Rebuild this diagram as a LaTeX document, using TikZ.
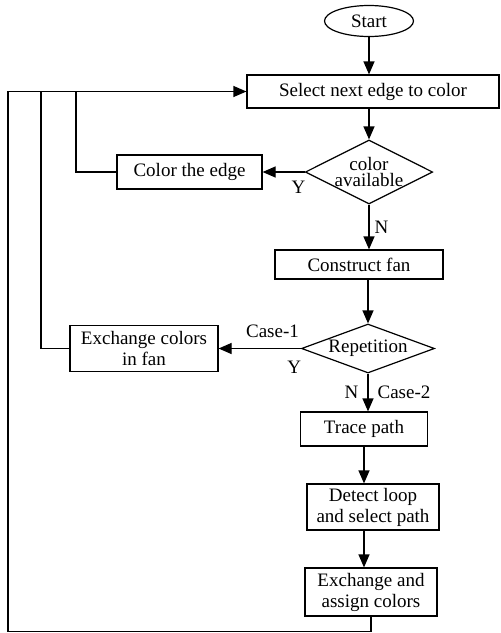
\documentclass[tikz,border=0pt]{standalone}
\usepackage{fontspec}
\setmainfont{Liberation Serif}
\usetikzlibrary{shapes.geometric,arrows.meta}
\tikzstyle{block}=[rectangle,draw,line width=0.6pt,inner sep=0pt,align=center]
\tikzstyle{decision}=[diamond,draw,line width=0.6pt,inner sep=0pt,align=center]
\tikzstyle{arr}=[line width=0.6pt,-{Triangle[length=6.5pt,width=5.5pt]}]
\tikzstyle{lbl}=[inner sep=0pt]

\begin{document}
\begin{tikzpicture}[x=0.5pt,y=-0.5pt,font=\fontsize{9.5}{10.5}\selectfont]
		\useasboundingbox (0,0) rectangle (500,633);
		\node[ellipse,draw,line width=0.6pt,inner sep=0pt,minimum width=44.5pt,minimum height=15.5pt] at (369, 21) (start) {Start};
		\node[block,minimum width=126pt,minimum height=16.5pt] at (373, 91.5) (select) {Select next edge to color};
		\node[decision,aspect=2,minimum width=62.5pt,minimum height=32pt,font=\fontsize{9.5}{8}\selectfont] at (369, 172) (avail) {color\\available};
		\node[block,minimum width=72.5pt,minimum height=17pt] at (189.5, 172) (edge) {Color the edge};
		\node[block,minimum width=84pt,minimum height=14.5pt] at (359, 264.5) (construct) {Construct fan};
		\node[decision,aspect=3,minimum width=66.5pt,minimum height=24.5pt] at (368, 348.5) (rep) {Repetition};
		\node[block,minimum width=74pt,minimum height=23pt] at (144, 348.5) (fan) {Exchange colors\\in fan};
		\node[block,minimum width=63.5pt,minimum height=17pt] at (364, 429) (trace) {Trace path};
		\node[block,minimum width=66pt,minimum height=23pt] at (373, 507) (detect) {Detect loop\\and select path};
		\node[block,minimum width=66pt,minimum height=24pt] at (371, 592) (assign) {Exchange and\\assign colors};
		\coordinate (lane1) at (8, 91.5);
		\coordinate (lane2) at (41, 91.5);
		\coordinate (lane3) at (76, 91.5);
		\coordinate (bot) at (8, 631.5);
		\draw[arr] (start.south) -- (start.south |- select.north);
		\draw[arr] (avail.north |- select.south) -- (avail.north);
		\draw[arr] (avail.west) -- node[lbl,pos=0.15,below=4pt] {Y} (edge.east);
		\draw[arr] (avail.south) -- node[lbl,right=2.5pt] {N} (avail.south |- construct.north);
		\draw[arr] (rep.north |- construct.south) -- (rep.north);
		\draw[arr] (rep.west) -- node[lbl,pos=0.345,above=5pt] {Case-1} node[lbl,pos=0.08,below=6pt] {Y} (fan.east);
		\draw[arr] (rep.south) -- node[lbl,left=4.5pt] {N} node[lbl,right=4.5pt] {Case-2} (rep.south |- trace.north);
		\draw[arr] (trace.south) -- (trace.south |- detect.north);
		\draw[arr] (trace.south |- detect.south) -- (trace.south |- assign.north);
		\draw[line width=0.6pt] (edge.west) -| (lane3);
		\draw[line width=0.6pt] (fan.west) -| (lane2);
		\draw[arr] (assign.south) |- (bot) -- (lane1) -- (select.west);
\end{tikzpicture}
\end{document}
